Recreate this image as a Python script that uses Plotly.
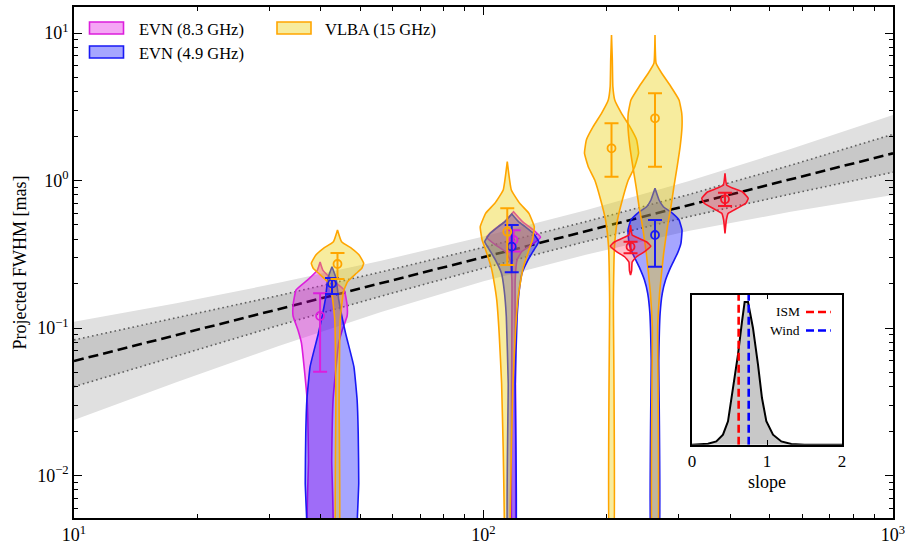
import numpy as np
import plotly.graph_objects as go

# ---------------- data ----------------
# best-fit power law and its credible bands (FWHM in mas vs epoch)
fit_t = [10, 1000]
fit_fwhm = [0.0597, 1.528]
band_t = [10, 17.78, 31.62, 56.23, 100, 177.8, 316.2, 562.3, 1000]
outer_hi = [0.1104, 0.1469, 0.2023, 0.2858, 0.4169, 0.6295, 0.9886, 1.633, 2.780]
outer_lo = [0.02377, 0.04285, 0.0755, 0.1285, 0.2075, 0.3133, 0.4539, 0.6138, 0.798]
inner_hi = [0.0830, 0.1167, 0.1660, 0.2399, 0.3524, 0.5260, 0.8017, 1.268, 2.056]
inner_lo = [0.0400, 0.0649, 0.1042, 0.1644, 0.2547, 0.3855, 0.5675, 0.8091, 1.138]

# EVN (8.3 GHz)
evn83_t = [39.9, 118.4]
evn83_fwhm = [0.1206, 0.395]
evn83_hi = [0.172, 0.46]
evn83_lo = [0.0506, 0.33]
evn83_vfwhm = [[0.280, 0.247, 0.211, 0.181, 0.143, 0.1206, 0.0969, 0.0791, 0.0519, 0.0325, 0.01274, 0.00267],
               [0.6143, 0.526, 0.4618, 0.412, 0.3655, 0.329, 0.289, 0.211, 0.00267]]
evn83_vdens = [[0, 0.1, 0.47, 0.89, 1.0, 1.0, 0.82, 0.69, 0.58, 0.48, 0.43, 0.43],
               [0, 0.33, 0.74, 1.0, 0.67, 0.3, 0.13, 0.06, 0.04]]

# EVN (4.9 GHz)
evn49_t = [42.66, 117.2, 262.3]
evn49_fwhm = [0.2, 0.356, 0.427]
evn49_hi = [0.218, 0.50, 0.5397]
evn49_lo = [0.17, 0.2387, 0.2605]
evn49_vfwhm = [[0.2605, 0.218, 0.155, 0.0925, 0.0547, 0.0325, 0.0194, 0.00889, 0.00524, 0.00267],
               [0.593, 0.526, 0.486, 0.4385, 0.3846, 0.338, 0.289, 0.235, 0.181, 0.1193, 0.0422, 0.00267],
               [0.885, 0.7376, 0.6644, 0.599, 0.5397, 0.4618, 0.3751, 0.3208, 0.2605, 0.2114, 0.1718, 0.1258, 0.0607, 0.00267]]
evn49_vdens = [[0, 0.15, 0.25, 0.5, 0.81, 0.93, 0.97, 0.99, 0.94, 0.9],
               [0, 0.25, 0.5, 0.8, 1.0, 0.82, 0.6, 0.38, 0.28, 0.2, 0.13, 0.12],
               [0, 0.15, 0.31, 0.65, 0.89, 1.0, 0.96, 0.83, 0.59, 0.39, 0.27, 0.19, 0.14, 0.12]]

# VLBA (15 GHz)
vlba_t = [44.0, 114.3, 205.4, 262.3]
vlba_fwhm = [0.2716, 0.4498, 1.653, 2.641]
vlba_hi = [0.3224, 0.648, 2.443, 3.902]
vlba_lo = [0.2148, 0.2674, 1.061, 1.2406]
vlba_vfwhm = [[0.4618, 0.3846, 0.3468, 0.3126, 0.2746, 0.254, 0.235, 0.206, 0.176, 0.1133, 0.0325, 0.00267],
              [1.341, 0.862, 0.7005, 0.599, 0.486, 0.395, 0.338, 0.2605, 0.201, 0.155, 0.092, 0.0422, 0.0149, 0.00526, 0.00267],
              [9.69, 6.56, 4.325, 3.514, 2.855, 2.316, 1.882, 1.529, 1.2406, 1.008, 0.7376, 0.5397, 0.3558, 0.155, 0.00267],
              [9.69, 6.232, 5.332, 4.325, 3.514, 2.855, 2.316, 1.695, 1.2406, 0.908, 0.6644, 0.486, 0.3208, 0.1727, 0.102, 0.00267]]
vlba_vdens = [[0, 0.15, 0.52, 0.8, 0.97, 0.9, 0.7, 0.37, 0.22, 0.1, 0.06, 0.05],
              [0, 0.15, 0.46, 0.8, 1.0, 0.93, 0.8, 0.6, 0.48, 0.39, 0.3, 0.21, 0.15, 0.11, 0.1],
              [0, 0.03, 0.05, 0.12, 0.37, 0.68, 0.93, 1.0, 0.86, 0.62, 0.4, 0.22, 0.11, 0.07, 0.06],
              [0, 0.04, 0.25, 0.59, 0.89, 0.99, 1.0, 0.93, 0.82, 0.7, 0.59, 0.46, 0.32, 0.17, 0.1, 0.08]]

# additional (red) epochs
red_t = [228.6, 388.8]
red_fwhm = [0.3558, 0.7456]
red_hi = [0.3846, 0.8266]
red_lo = [0.3208, 0.6716]
red_vfwhm = [[0.4993, 0.427, 0.4057, 0.383, 0.3597, 0.329, 0.3042, 0.280, 0.245, 0.2287],
             [1.119, 0.932, 0.885, 0.836, 0.757, 0.7005, 0.648, 0.599, 0.5397, 0.4385]]
red_vdens = [[0, 0.06, 0.3, 0.6, 0.75, 0.52, 0.22, 0.06, 0.04, 0],
             [0, 0.06, 0.3, 0.65, 0.86, 0.77, 0.45, 0.12, 0.05, 0]]

# inset: posterior of the slope
slope_grid = [0, 0.213, 0.324, 0.413, 0.48, 0.547, 0.613, 0.667, 0.702, 0.747, 0.813, 0.88,
              0.933, 0.991, 1.08, 1.191, 1.324, 1.5, 2.0]
slope_dens = [0, 0.007, 0.023, 0.07, 0.164, 0.397, 0.631, 0.864, 1.0, 1.0, 0.818, 0.561,
              0.327, 0.164, 0.07, 0.023, 0.005, 0, 0]
ism_slope = 0.622
wind_slope = 0.756

# ---------------- styling ----------------
FONT = "Liberation Serif"
HALF_DEX = 0.066  # max half width of a violin in decades of the x axis
series = [
    ("EVN (8.3 GHz)", evn83_t, evn83_fwhm, evn83_hi, evn83_lo, evn83_vfwhm, evn83_vdens,
     "rgb(220,30,220)", "rgba(225,0,225,0.35)"),
    ("EVN (4.9 GHz)", evn49_t, evn49_fwhm, evn49_hi, evn49_lo, evn49_vfwhm, evn49_vdens,
     "rgb(25,25,245)", "rgba(0,0,255,0.35)"),
    ("VLBA (15 GHz)", vlba_t, vlba_fwhm, vlba_hi, vlba_lo, vlba_vfwhm, vlba_vdens,
     "rgb(255,165,0)", "rgba(235,205,0,0.38)"),
    ("other", red_t, red_fwhm, red_hi, red_lo, red_vfwhm, red_vdens,
     "rgb(250,20,40)", "rgba(255,30,60,0.28)"),
]

fig = go.Figure()

# bands
fig.add_trace(go.Scatter(x=band_t + band_t[::-1], y=outer_hi + outer_lo[::-1], fill="toself",
                         fillcolor="rgb(224,224,224)", line=dict(width=0),
                         mode="lines", hoverinfo="skip", showlegend=False))
fig.add_trace(go.Scatter(x=band_t + band_t[::-1], y=inner_hi + inner_lo[::-1], fill="toself",
                         fillcolor="rgb(200,200,200)", line=dict(width=0),
                         mode="lines", hoverinfo="skip", showlegend=False))
for arr in (inner_hi, inner_lo):
    fig.add_trace(go.Scatter(x=band_t, y=arr, mode="lines",
                             line=dict(color="rgb(95,95,95)", width=1.6, dash="1.6px,3px"),
                             showlegend=False, hoverinfo="skip"))
fig.add_trace(go.Scatter(x=fit_t, y=fit_fwhm, mode="lines",
                         line=dict(color="black", width=2.6, dash="10px,5px"),
                         showlegend=False))


def violin_xy(t, fw, dens):
    lt = np.log10(t)
    xl = [10 ** (lt - d * HALF_DEX) for d in dens]
    xr = [10 ** (lt + d * HALF_DEX) for d in dens]
    xs = xl + xr[::-1] + [xl[0]]
    ys = list(fw) + list(fw)[::-1] + [fw[0]]
    return xs, ys


# violins
for name, t, fw, hi, lo, vfw, vd, edge, fillc in series:
    for i in range(len(t)):
        xs, ys = violin_xy(t[i], vfw[i], vd[i])
        fig.add_trace(go.Scatter(x=xs, y=ys, mode="lines", fill="toself", fillcolor=fillc,
                                 line=dict(color=edge, width=1.6, shape="spline", smoothing=0.35),
                                 showlegend=False, hoverinfo="skip"))

# points with error bars
for name, t, fw, hi, lo, vfw, vd, edge, fillc in series:
    fig.add_trace(go.Scatter(
        x=t, y=fw, mode="markers",
        marker=dict(symbol="circle-open", size=8, color=edge, line=dict(width=1.8, color=edge)),
        error_y=dict(type="data", symmetric=False,
                     array=[h - v for h, v in zip(hi, fw)],
                     arrayminus=[v - l for v, l in zip(fw, lo)],
                     color=edge, thickness=2, width=7),
        showlegend=False, name=name))

# inset
fig.add_trace(go.Scatter(x=slope_grid, y=slope_dens, mode="lines", fill="tozeroy",
                         fillcolor="rgb(200,200,200)", line=dict(color="black", width=2),
                         xaxis="x2", yaxis="y2", showlegend=False))
for val, col in ((ism_slope, "red"), (wind_slope, "blue")):
    fig.add_trace(go.Scatter(x=[val, val], y=[0, 1.06], mode="lines",
                             line=dict(color=col, width=2.6, dash="8px,4px"),
                             xaxis="x2", yaxis="y2", showlegend=False))

# ---------------- layout ----------------
X0, X1, Y0, Y1 = 74, 893, 7, 518
W, H = X1 - X0, Y1 - Y0


def px(x):
    return (x - X0) / W


def py(y):
    return (Y1 - y) / H


def minor_vals(lo_exp, hi_exp):
    return [m * 10 ** e for e in range(lo_exp, hi_exp + 1) for m in range(2, 10)]


axis_common = dict(showline=True, linecolor="black", linewidth=1.5, mirror="ticks",
                   ticks="inside", tickcolor="black", tickwidth=1.2, showgrid=False,
                   zeroline=False, automargin=False, ticklabeloverflow="allow")

fig.update_layout(
    width=905, height=547,
    margin=dict(l=X0, r=905 - X1, t=Y0, b=547 - Y1, autoexpand=False),
    paper_bgcolor="white", plot_bgcolor="white",
    font=dict(family=FONT, size=16, color="black"),
    showlegend=False,
    xaxis=dict(type="log", range=[1, 3], tickvals=[10, 100, 1000],
               ticktext=["10<sup>1</sup>", "10<sup>2</sup>", "10<sup>3</sup>"], ticklen=8,
               tickfont=dict(size=18),
               minor=dict(tickvals=minor_vals(1, 2), ticks="inside", ticklen=4,
                          tickcolor="black", tickwidth=1), **axis_common),
    yaxis=dict(type="log", range=[(180.5 - 518) / 147.5, (180.5 - 7) / 147.5],
               tickvals=[0.01, 0.1, 1, 10],
               ticktext=["10<sup>\u22122</sup>", "10<sup>\u22121</sup>", "10<sup>0</sup>", "10<sup>1</sup>"],
               ticklen=8, tickfont=dict(size=18),
               title=dict(text="Projected FWHM [mas]", font=dict(size=18), standoff=6),
               minor=dict(tickvals=minor_vals(-3, 1), ticks="inside", ticklen=4,
                          tickcolor="black", tickwidth=1), **axis_common),
    xaxis2=dict(domain=[px(692), px(842)], anchor="y2", range=[0, 2], tickvals=[0, 1, 2],
                ticklen=5, title=dict(text="slope", font=dict(size=18), standoff=6),
                tickfont=dict(size=17), **axis_common),
    yaxis2=dict(domain=[py(444.7), py(294.7)], anchor="x2", range=[0, 1.051],
                showticklabels=False, showline=True, linecolor="black", linewidth=1.5,
                mirror=True, ticks="", showgrid=False, zeroline=False, automargin=False),
)

shapes = []
annotations = []
# main legend (swatches + labels)
legend_items = [(series[0], 89.5, 22, 137, 29.5), (series[1], 89.5, 46, 137, 53),
                (series[2], 277, 22, 323, 29.5)]
for s, sx, sy, tx, ty in legend_items:
    shapes.append(dict(type="rect", xref="paper", yref="paper", x0=px(sx), x1=px(sx + 34),
                       y0=py(sy + 12), y1=py(sy), fillcolor=s[8],
                       line=dict(color=s[7], width=1.6)))
    annotations.append(dict(x=px(tx), y=py(ty), xref="paper", yref="paper", text=s[0],
                            showarrow=False, xanchor="left", yanchor="middle",
                            font=dict(size=16.5, family=FONT)))

# inset legend
for lab, col, yy in (("ISM", "red", 0.93), ("Wind", "blue", 0.80)):
    annotations.append(dict(x=1.46, y=yy, xref="x2", yref="y2", text=lab, showarrow=False,
                            xanchor="right", yanchor="middle", font=dict(size=13.5, family=FONT)))
    shapes.append(dict(type="line", xref="x2", yref="y2", x0=1.52, x1=1.85, y0=yy, y1=yy,
                       line=dict(color=col, width=2.6, dash="8px,4px")))

fig.update_layout(shapes=shapes, annotations=annotations)

fig.write_html("out.html")
